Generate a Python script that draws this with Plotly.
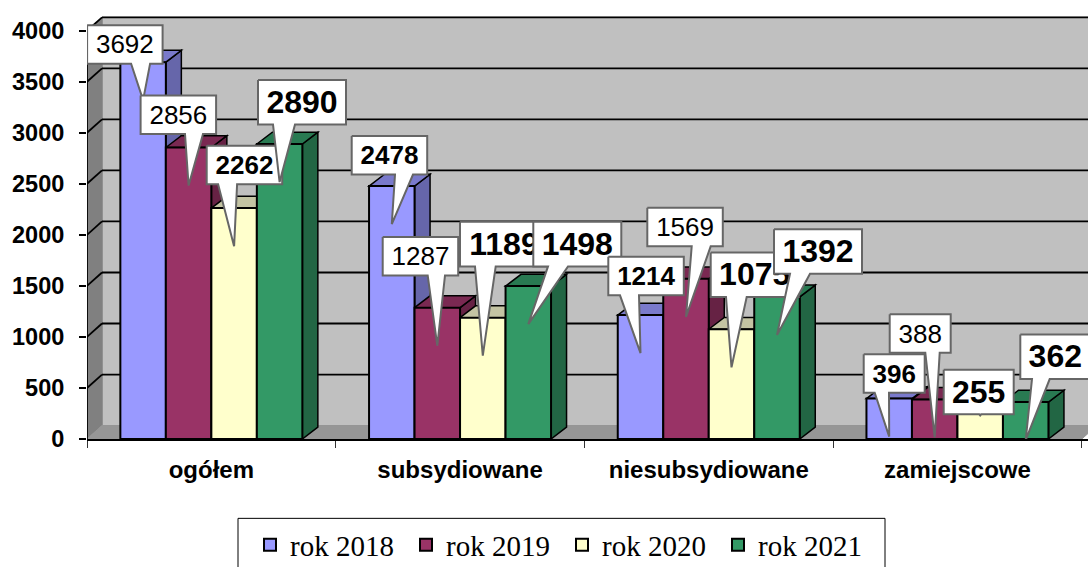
import plotly.graph_objects as go

# ---------- data ----------
categories = ["ogółem", "subsydiowane", "niesubsydiowane", "zamiejscowe"]
rok_2018 = [3692, 2478, 1214, 396]
rok_2019 = [2856, 1287, 1569, 388]
rok_2020 = [2262, 1189, 1075, 255]
rok_2021 = [2890, 1498, 1392, 362]
series_names = ["rok 2018", "rok 2019", "rok 2020", "rok 2021"]
y_ticks = [0, 500, 1000, 1500, 2000, 2500, 3000, 3500, 4000]

# ---------- style ----------
series_values = [rok_2018, rok_2019, rok_2020, rok_2021]
front = ["#9999FF", "#993366", "#FFFFCC", "#339966"]
top_c = ["#7A7ACC", "#7A2952", "#C4C4A3", "#297A52"]
side_c = ["#6666AA", "#662244", "#AAAA88", "#226644"]

W, H = 1088, 567
ML, MT = 87, 10
Y0_PX = 438.7
PX_PER_CAT = 248.7
PX_PER_UNIT = 0.102
x_range = [-0.5, -0.5 + (W - ML) / PX_PER_CAT]
y_range = [0, (Y0_PX - MT) / PX_PER_UNIT]
px_x = lambda p: p / PX_PER_CAT
px_y = lambda p: p / PX_PER_UNIT

WALL_DX, WALL_DY = px_x(15), px_y(13.4)
BAR_DX, BAR_DY = px_x(15.5), px_y(11.8)
BAR_W = 45.5 / PX_PER_CAT
TIP_DROP = 38

fig = go.Figure()
shapes = []


def poly(pts, fill, line="black", width=1.5):
    path = "M" + " L".join(f"{x},{y}" for x, y in pts) + " Z"
    shapes.append(dict(type="path", path=path, xref="x", yref="y", layer="below",
                       fillcolor=fill, line=dict(color=line, width=width)))


def seg(x0, y0, x1, y1, color="black", width=1.8):
    shapes.append(dict(type="line", x0=x0, y0=y0, x1=x1, y1=y1, xref="x", yref="y",
                       layer="below", line=dict(color=color, width=width)))


xl, xr = x_range[0], -0.5 + len(categories)
ytop = y_ticks[-1]
# back wall, side wall, floor
poly([(xl + WALL_DX, WALL_DY), (x_range[1] + 1, WALL_DY), (x_range[1] + 1, ytop + WALL_DY),
      (xl + WALL_DX, ytop + WALL_DY)], "#C0C0C0", "#808080", 1)
poly([(xl, 0), (xl + WALL_DX, WALL_DY), (xl + WALL_DX, ytop + WALL_DY), (xl, ytop)], "#808080", "#808080", 1)
poly([(xl, 0), (xl + WALL_DX, WALL_DY), (xr + WALL_DX, WALL_DY), (xr, 0)], "#969696", "#969696", 1)
# gridlines on walls
for t in y_ticks[1:]:
    seg(xl, t, xl + WALL_DX, t + WALL_DY)
    seg(xl + WALL_DX, t + WALL_DY, x_range[1] + 1, t + WALL_DY)
seg(xl, 0, xl, ytop)

# bars and their depth faces
n = len(series_values)
for c in range(len(categories)):
    for s in range(n):
        v = series_values[s][c]
        x_left = c + (s - n / 2) * BAR_W
        x_right = x_left + BAR_W
        poly([(x_right, 0), (x_right + BAR_DX, BAR_DY), (x_right + BAR_DX, v + BAR_DY), (x_right, v)], side_c[s])
        poly([(x_left, v), (x_left + BAR_DX, v + BAR_DY), (x_right + BAR_DX, v + BAR_DY), (x_right, v)], top_c[s])

for s in range(n):
    fig.add_trace(go.Bar(name=series_names[s], x=list(range(len(categories))), y=series_values[s],
                         marker=dict(color=front[s], line=dict(color="black", width=2))))

# ---------- callouts ----------
# (left of box, top of box, wedge left, wedge right), px relative to the wedge tip; bold; font size
callouts = {
    (0, 0): (-56, -75, -12, 7, False, 26), (0, 1): (-48, -90, -3.6, 14.4, False, 26),
    (0, 2): (-27.4, -100.3, -16, 3, True, 26), (0, 3): (-21.6, -102, -6.6, 15.4, True, 32),
    (1, 0): (-40.1, -88, 3.2, 21.2, True, 26), (1, 1): (-54.6, -108.7, -9.6, 7.7, False, 26),
    (1, 2): (-22.8, -133.7, -7.8, 12.9, True, 32), (1, 3): (5, -102.2, 19.7, 39.7, True, 32),
    (2, 0): (-32.2, -96.2, -20.5, -1.5, True, 26), (2, 1): (-38.7, -109, 5.7, 24.7, False, 26),
    (2, 2): (-20.8, -114.7, -5.5, 15.2, True, 32), (2, 3): (-3, -105.7, 13, 33, True, 32),
    (3, 0): (-25.5, -82.3, -14.5, -0.2, True, 26), (3, 1): (-45, -123.1, -9.4, 5, False, 26),
    (3, 2): (-36.5, -45.7, -1, 1, True, 32), (3, 3): (-5.4, -105.5, 6.3, 24, True, 32),
}
tip_drop_override = {(3, 2): 2.5}

for c in range(len(categories)):
    for s in range(n):
        v = series_values[s][c]
        lx, ty, bl, br, bold, size = callouts[(c, s)]
        tip_x = c + (s - n / 2 + 0.5) * BAR_W
        tip_y = v - px_y(tip_drop_override.get((c, s), TIP_DROP))
        digits = len(str(v))
        w = {26: 75.5 if digits == 4 else 61, 32: 88 if digits == 4 else 70}[size]
        h = 38.5 if size == 26 else 44.5
        X = lambda p: tip_x + px_x(p)
        Y = lambda p: tip_y - px_y(p)
        bx = [lx, lx + w, lx + w, br, 0, bl, lx, lx]
        by = [ty, ty, ty + h, ty + h, 0, ty + h, ty + h, ty]
        fig.add_trace(go.Scatter(x=[X(p) for p in bx], y=[Y(p) for p in by], mode="lines", fill="toself",
                                 fillcolor="white", line=dict(color="#666666", width=2),
                                 showlegend=False, hoverinfo="skip", cliponaxis=False))
        fig.add_trace(go.Scatter(x=[X(lx + w / 2)], y=[Y(ty + h / 2 + 2.5)], mode="text", text=[str(v)],
                                 textposition="middle center", showlegend=False, hoverinfo="skip",
                                 cliponaxis=False,
                                 textfont=dict(family="Liberation Sans", size=size, color="black",
                                               weight="bold" if bold else "normal")))

# legend frame
shapes.append(dict(type="rect", xref="paper", yref="paper", layer="above",
                   x0=(238 - ML) / (W - ML), x1=(885 - ML) / (W - ML),
                   y0=(Y0_PX - 568) / (Y0_PX - MT), y1=(Y0_PX - 518) / (Y0_PX - MT),
                   line=dict(color="black", width=1), fillcolor="rgba(0,0,0,0)"))

fig.update_layout(
    width=W, height=H, margin=dict(l=ML, r=0, t=MT, b=H - Y0_PX, pad=0, autoexpand=False),
    paper_bgcolor="white", plot_bgcolor="white", barmode="group", bargap=1 - 4 * BAR_W, bargroupgap=0,
    shapes=shapes, hovermode=False,
    font=dict(family="Liberation Sans", color="black"),
    legend=dict(orientation="h", x=(250 - ML) / (W - ML), y=(Y0_PX - 519) / (Y0_PX - MT),
                xanchor="left", yanchor="top", bgcolor="rgba(0,0,0,0)", borderwidth=0,
                entrywidth=111, entrywidthmode="pixels", traceorder="normal",
                font=dict(family="Liberation Serif", size=29, color="black")),
    xaxis=dict(range=x_range, tickmode="array", tickvals=list(range(len(categories))), ticktext=categories,
               ticks="", showgrid=False, zeroline=False, showline=True, linecolor="black", linewidth=2,
               tickfont=dict(family="Liberation Sans", size=24, color="black", weight="bold"),
               ticklabelstandoff=8,
               minor=dict(tickmode="array", tickvals=[-0.5, 0.5, 1.5, 2.5, 3.5], ticks="outside", ticklen=7,
                          tickwidth=1, tickcolor="#333333", showgrid=False)),
    yaxis=dict(range=y_range, tickmode="array", tickvals=y_ticks, ticks="outside", ticklen=7, tickwidth=1.5,
               tickcolor="black", showgrid=False, zeroline=False, showline=False,
               tickfont=dict(family="Liberation Sans", size=23.5, color="black", weight="bold"),
               ticklabelstandoff=10),
)

fig.write_html("out.html", config={"displayModeBar": False}, post_script="document.body.style.margin='0';")
